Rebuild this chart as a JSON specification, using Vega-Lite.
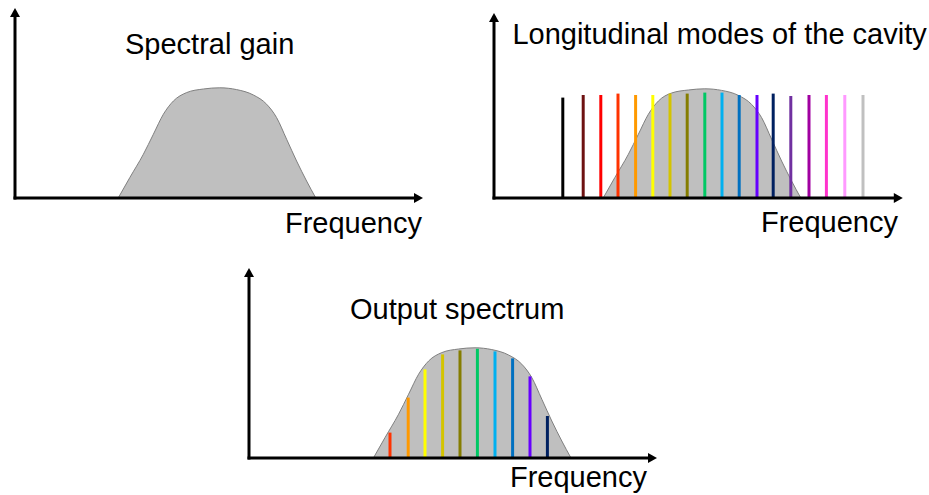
{
  "$schema": "https://vega.github.io/schema/vega-lite/v6.json",
  "background": "white",
  "padding": {"left": 10, "top": 8, "right": 0, "bottom": 0},
  "autosize": {"type": "pad"},
  "config": {"view": {"stroke": null}, "font": "Liberation Sans"},
  "bounds": "flush",
  "spacing": 260,
  "vconcat": [
    {
      "bounds": "flush",
      "spacing": 71,
      "hconcat": [
        {
          "width": 408,
          "height": 190,
          "layer": [
            {
              "data": {"values": [
                {"f": 25.8, "g": 0}, {"f": 28.7, "g": 10.2}, {"f": 32.1, "g": 21.9}, {"f": 34.6, "g": 31.9},
                {"f": 37.1, "g": 41.9}, {"f": 39.6, "g": 48.5}, {"f": 42.9, "g": 52.7}, {"f": 47.1, "g": 54.5},
                {"f": 51.2, "g": 55.1}, {"f": 55.4, "g": 54.2}, {"f": 59.6, "g": 51.5}, {"f": 62.9, "g": 46.9},
                {"f": 65.4, "g": 40.2}, {"f": 67.9, "g": 29.4}, {"f": 70.4, "g": 18.5}, {"f": 72.9, "g": 8.5},
                {"f": 75.2, "g": 0}
              ]},
              "mark": {"type": "area", "interpolate": "monotone", "fill": "#bfbfbf", "stroke": "#808080", "strokeWidth": 1},
              "encoding": {
                "x": {"field": "f", "type": "quantitative", "scale": {"domain": [0, 102], "nice": false, "zero": false}, "axis": null},
                "y": {"field": "g", "type": "quantitative", "scale": {"domain": [0, 95], "nice": false}, "axis": null}
              }
            },
            {
              "data": {"values": [{}]},
              "mark": {"type": "rule", "color": "black", "strokeWidth": 3, "strokeCap": "square"},
              "encoding": {
                "x": {"datum": 0, "type": "quantitative", "axis": null},
                "y": {"datum": 0, "type": "quantitative", "axis": null},
                "y2": {"datum": 92}
              }
            },
            {
              "data": {"values": [{}]},
              "mark": {"type": "rule", "color": "black", "strokeWidth": 3, "strokeCap": "square"},
              "encoding": {
                "x": {"datum": 0, "type": "quantitative", "axis": null},
                "x2": {"datum": 100},
                "y": {"datum": 0, "type": "quantitative", "axis": null}
              }
            },
            {
              "data": {"values": [{}]},
              "mark": {"type": "point", "shape": "M0,0L-1.8,-1L-1.8,1Z", "filled": true, "size": 100, "color": "black", "opacity": 1, "strokeWidth": 0},
              "encoding": {
                "x": {"datum": 102, "type": "quantitative", "axis": null},
                "y": {"datum": 0, "type": "quantitative", "axis": null}
              }
            },
            {
              "data": {"values": [{}]},
              "mark": {"type": "point", "shape": "M0,0L-1,1.8L1,1.8Z", "filled": true, "size": 100, "color": "black", "opacity": 1, "strokeWidth": 0},
              "encoding": {
                "x": {"datum": 0, "type": "quantitative", "axis": null},
                "y": {"datum": 95, "type": "quantitative", "axis": null}
              }
            },
            {
              "data": {"values": [{}]},
              "mark": {"type": "text", "text": "Spectral gain", "align": "left", "baseline": "alphabetic", "fontSize": 29, "font": "Liberation Sans", "color": "black"},
              "encoding": {
                "x": {"datum": 27.5, "type": "quantitative", "axis": null},
                "y": {"datum": 72, "type": "quantitative", "axis": null}
              }
            },
            {
              "data": {"values": [{}]},
              "mark": {"type": "text", "text": "Frequency", "align": "right", "baseline": "alphabetic", "fontSize": 29, "font": "Liberation Sans", "color": "black"},
              "encoding": {
                "x": {"datum": 101.75, "type": "quantitative", "axis": null},
                "y": {"datum": -17.5, "type": "quantitative", "axis": null}
              }
            }
          ]
        },
        {
          "width": 408,
          "height": 190,
          "layer": [
            {
              "data": {"values": [
                {"f": 27.3, "g": 0}, {"f": 30.2, "g": 10.2}, {"f": 33.6, "g": 21.9}, {"f": 36.1, "g": 31.9},
                {"f": 38.6, "g": 41.9}, {"f": 41.1, "g": 48.5}, {"f": 44.4, "g": 52.5}, {"f": 48.6, "g": 54.0},
                {"f": 52.7, "g": 54.6}, {"f": 56.9, "g": 53.8}, {"f": 61.1, "g": 51.3}, {"f": 64.4, "g": 46.8},
                {"f": 66.9, "g": 40.2}, {"f": 69.4, "g": 29.4}, {"f": 71.9, "g": 18.5}, {"f": 74.4, "g": 8.5},
                {"f": 76.7, "g": 0}
              ]},
              "mark": {"type": "area", "interpolate": "monotone", "fill": "#bfbfbf", "stroke": "#808080", "strokeWidth": 1},
              "encoding": {
                "x": {"field": "f", "type": "quantitative", "scale": {"domain": [0, 102], "nice": false, "zero": false}, "axis": null},
                "y": {"field": "g", "type": "quantitative", "scale": {"domain": [0, 95], "nice": false}, "axis": null}
              }
            },
            {
              "data": {"values": [
                {"mode": 1, "f": 17.2, "h": 50.2}, {"mode": 2, "f": 22.3, "h": 51.5}, {"mode": 3, "f": 26.7, "h": 51.5},
                {"mode": 4, "f": 31.0, "h": 52.2}, {"mode": 5, "f": 35.4, "h": 51.5}, {"mode": 6, "f": 39.7, "h": 51.5},
                {"mode": 7, "f": 44.0, "h": 52.2}, {"mode": 8, "f": 48.3, "h": 52.2}, {"mode": 9, "f": 52.7, "h": 52.7},
                {"mode": 10, "f": 57.0, "h": 52.7}, {"mode": 11, "f": 61.3, "h": 51.5}, {"mode": 12, "f": 65.75, "h": 51.5},
                {"mode": 13, "f": 69.8, "h": 52.2}, {"mode": 14, "f": 74.2, "h": 51.0}, {"mode": 15, "f": 78.75, "h": 51.5},
                {"mode": 16, "f": 83.1, "h": 51.5}, {"mode": 17, "f": 87.7, "h": 51.5}, {"mode": 18, "f": 92.25, "h": 51.5}
              ]},
              "mark": {"type": "rule", "strokeWidth": 3},
              "encoding": {
                "x": {"field": "f", "type": "quantitative", "axis": null},
                "y": {"field": "h", "type": "quantitative", "axis": null},
                "y2": {"datum": 0},
                "color": {"field": "mode", "type": "ordinal", "legend": null,
                  "scale": {"domain": [1, 2, 3, 4, 5, 6, 7, 8, 9, 10, 11, 12, 13, 14, 15, 16, 17, 18],
                    "range": ["#000000", "#6e1212", "#ff0000", "#ff3300", "#ff9900", "#ffff00", "#d4c400", "#857d00", "#00c864", "#00b0f0", "#0070c0", "#6600ff", "#002060", "#7030a0", "#a000a0", "#ff33cc", "#ff99ff", "#c0c0c0"]}}
              }
            },
            {
              "data": {"values": [{}]},
              "mark": {"type": "rule", "color": "black", "strokeWidth": 3, "strokeCap": "square"},
              "encoding": {
                "x": {"datum": 0, "type": "quantitative", "axis": null},
                "y": {"datum": 0, "type": "quantitative", "axis": null},
                "y2": {"datum": 90}
              }
            },
            {
              "data": {"values": [{}]},
              "mark": {"type": "rule", "color": "black", "strokeWidth": 3, "strokeCap": "square"},
              "encoding": {
                "x": {"datum": 0, "type": "quantitative", "axis": null},
                "x2": {"datum": 100},
                "y": {"datum": 0, "type": "quantitative", "axis": null}
              }
            },
            {
              "data": {"values": [{}]},
              "mark": {"type": "point", "shape": "M0,0L-1.8,-1L-1.8,1Z", "filled": true, "size": 100, "color": "black", "opacity": 1, "strokeWidth": 0},
              "encoding": {
                "x": {"datum": 102.2, "type": "quantitative", "axis": null},
                "y": {"datum": 0, "type": "quantitative", "axis": null}
              }
            },
            {
              "data": {"values": [{}]},
              "mark": {"type": "point", "shape": "M0,0L-1,1.8L1,1.8Z", "filled": true, "size": 100, "color": "black", "opacity": 1, "strokeWidth": 0},
              "encoding": {
                "x": {"datum": 0, "type": "quantitative", "axis": null},
                "y": {"datum": 92.5, "type": "quantitative", "axis": null}
              }
            },
            {
              "data": {"values": [{}]},
              "mark": {"type": "text", "text": "Longitudinal modes of the cavity", "align": "left", "baseline": "alphabetic", "fontSize": 29, "font": "Liberation Sans", "color": "black"},
              "encoding": {
                "x": {"datum": 4.6, "type": "quantitative", "axis": null},
                "y": {"datum": 77, "type": "quantitative", "axis": null}
              }
            },
            {
              "data": {"values": [{}]},
              "mark": {"type": "text", "text": "Frequency", "align": "right", "baseline": "alphabetic", "fontSize": 29, "font": "Liberation Sans", "color": "black"},
              "encoding": {
                "x": {"datum": 101, "type": "quantitative", "axis": null},
                "y": {"datum": -17, "type": "quantitative", "axis": null}
              }
            }
          ]
        }
      ]
    },
    {
      "bounds": "flush",
      "spacing": 0,
      "hconcat": [
        {
          "width": 234,
          "height": 190,
          "data": {"values": [{"f": 0}]},
          "mark": {"type": "point", "opacity": 0},
          "encoding": {
            "x": {"field": "f", "type": "quantitative", "axis": null},
            "y": {"field": "f", "type": "quantitative", "axis": null}
          }
        },
        {
          "width": 408,
          "height": 190,
          "layer": [
            {
              "data": {"values": [
                {"f": 31.1, "g": 0}, {"f": 34.0, "g": 10.2}, {"f": 37.4, "g": 21.9}, {"f": 39.9, "g": 31.9},
                {"f": 42.4, "g": 41.9}, {"f": 44.9, "g": 48.5}, {"f": 48.2, "g": 52.7}, {"f": 52.4, "g": 54.5},
                {"f": 56.5, "g": 55.1}, {"f": 60.7, "g": 54.2}, {"f": 64.9, "g": 51.5}, {"f": 68.2, "g": 46.9},
                {"f": 70.7, "g": 40.2}, {"f": 73.2, "g": 29.4}, {"f": 75.7, "g": 18.5}, {"f": 78.2, "g": 8.5},
                {"f": 80.5, "g": 0}
              ]},
              "mark": {"type": "area", "interpolate": "monotone", "fill": "#bfbfbf", "stroke": "#808080", "strokeWidth": 1},
              "encoding": {
                "x": {"field": "f", "type": "quantitative", "scale": {"domain": [0, 102], "nice": false, "zero": false}, "axis": null},
                "y": {"field": "g", "type": "quantitative", "scale": {"domain": [0, 95], "nice": false}, "axis": null}
              }
            },
            {
              "data": {"values": [
                {"mode": 4, "f": 35.25, "h": 12.7}, {"mode": 5, "f": 39.8, "h": 30.2}, {"mode": 6, "f": 44.0, "h": 44.3},
                {"mode": 7, "f": 48.4, "h": 51.8}, {"mode": 8, "f": 52.75, "h": 53.8}, {"mode": 9, "f": 57.1, "h": 54.6},
                {"mode": 10, "f": 61.5, "h": 53.3}, {"mode": 11, "f": 65.9, "h": 49.8}, {"mode": 12, "f": 70.25, "h": 40.8},
                {"mode": 13, "f": 74.6, "h": 21}
              ]},
              "mark": {"type": "rule", "strokeWidth": 3},
              "encoding": {
                "x": {"field": "f", "type": "quantitative", "axis": null},
                "y": {"field": "h", "type": "quantitative", "axis": null},
                "y2": {"datum": 0},
                "color": {"field": "mode", "type": "ordinal", "legend": null,
                  "scale": {"domain": [4, 5, 6, 7, 8, 9, 10, 11, 12, 13],
                    "range": ["#ff0000", "#ed7d31", "#ffff00", "#d4c400", "#857d00", "#00c864", "#00b0f0", "#0070c0", "#7030a0", "#002060"]}}
              }
            },
            {
              "data": {"values": [{}]},
              "mark": {"type": "rule", "color": "black", "strokeWidth": 3, "strokeCap": "square"},
              "encoding": {
                "x": {"datum": 0, "type": "quantitative", "axis": null},
                "y": {"datum": 0, "type": "quantitative", "axis": null},
                "y2": {"datum": 92}
              }
            },
            {
              "data": {"values": [{}]},
              "mark": {"type": "rule", "color": "black", "strokeWidth": 3, "strokeCap": "square"},
              "encoding": {
                "x": {"datum": 0, "type": "quantitative", "axis": null},
                "x2": {"datum": 100},
                "y": {"datum": 0, "type": "quantitative", "axis": null}
              }
            },
            {
              "data": {"values": [{}]},
              "mark": {"type": "point", "shape": "M0,0L-1.8,-1L-1.8,1Z", "filled": true, "size": 100, "color": "black", "opacity": 1, "strokeWidth": 0},
              "encoding": {
                "x": {"datum": 102, "type": "quantitative", "axis": null},
                "y": {"datum": 0, "type": "quantitative", "axis": null}
              }
            },
            {
              "data": {"values": [{}]},
              "mark": {"type": "point", "shape": "M0,0L-1,1.8L1,1.8Z", "filled": true, "size": 100, "color": "black", "opacity": 1, "strokeWidth": 0},
              "encoding": {
                "x": {"datum": 0, "type": "quantitative", "axis": null},
                "y": {"datum": 95, "type": "quantitative", "axis": null}
              }
            },
            {
              "data": {"values": [{}]},
              "mark": {"type": "text", "text": "Output spectrum", "align": "left", "baseline": "alphabetic", "fontSize": 29, "font": "Liberation Sans", "color": "black"},
              "encoding": {
                "x": {"datum": 25.25, "type": "quantitative", "axis": null},
                "y": {"datum": 69.5, "type": "quantitative", "axis": null}
              }
            },
            {
              "data": {"values": [{}]},
              "mark": {"type": "text", "text": "Frequency", "align": "right", "baseline": "alphabetic", "fontSize": 29, "font": "Liberation Sans", "color": "black"},
              "encoding": {
                "x": {"datum": 99.5, "type": "quantitative", "axis": null},
                "y": {"datum": -14.5, "type": "quantitative", "axis": null}
              }
            }
          ]
        }
      ]
    }
  ]
}
